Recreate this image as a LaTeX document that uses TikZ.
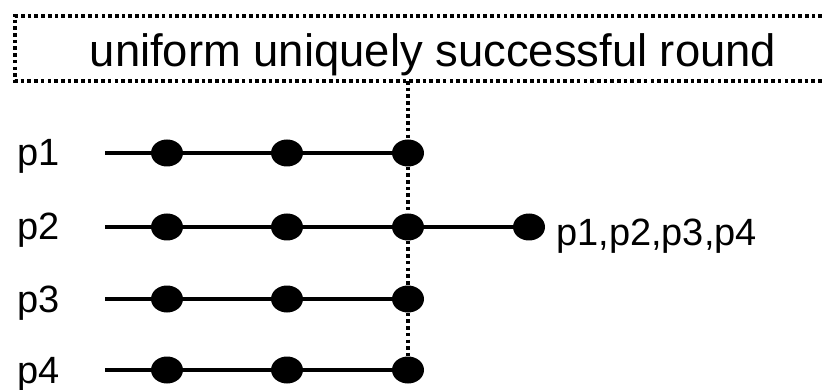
\documentclass[tikz,border=0pt]{standalone}
\usepackage{fontspec}
\setmainfont{Liberation Sans}
\usetikzlibrary{shapes.geometric}
\begin{document}
\begin{tikzpicture}[x=1pt,y=-1pt,
  dotline/.style={line width=4pt,dash pattern=on 3.6pt off 3.1pt},
  solidline/.style={line width=4.8pt},
  ev/.style={ellipse,fill=black,draw=none,inner sep=0pt,minimum width=32pt,minimum height=27pt},
  lbl/.style={font=\fontsize{38}{42}\selectfont,anchor=base west,inner sep=0pt},
  ttl/.style={font=\fontsize{45.4}{52}\selectfont,anchor=base,inner sep=0pt}]
\useasboundingbox (0,0) rectangle (822,390);
% box
\coordinate (btr) at (822,16);
\coordinate (btl) at (15,16);
\coordinate (bbl) at (15,81);
\coordinate (bbr) at (822,81);
\draw[dotline] (btr) -- (btl) -- (bbl) -- (bbr);
\node[ttl] (title) at (433,67) {uniform uniquely successful round};
\coordinate (vtop) at (408,81);
% rows
\foreach \i/\y in {1/153,2/227,3/299,4/370}{
  \coordinate (s\i) at (105,\y);
  \node[ev] (d\i1) at (167,\y) {};
  \node[ev] (d\i2) at (287,\y) {};
  \node[ev] (d\i3) at (408,\y) {};
  \node[lbl] (p\i) at (17,\y+13) {p\i};
  \draw[solidline] (s\i) -- (d\i1) -- (d\i2) -- (d\i3);
}
\node[ev] (dx) at (529,227) {};
\draw[solidline] (d23) -- (dx);
\node[lbl] (all) at (556,245) {p1,p2,p3,p4};
\draw[dotline] (vtop) -- (d13) -- (d23) -- (d33) -- (d43);
\end{tikzpicture}
\end{document}
